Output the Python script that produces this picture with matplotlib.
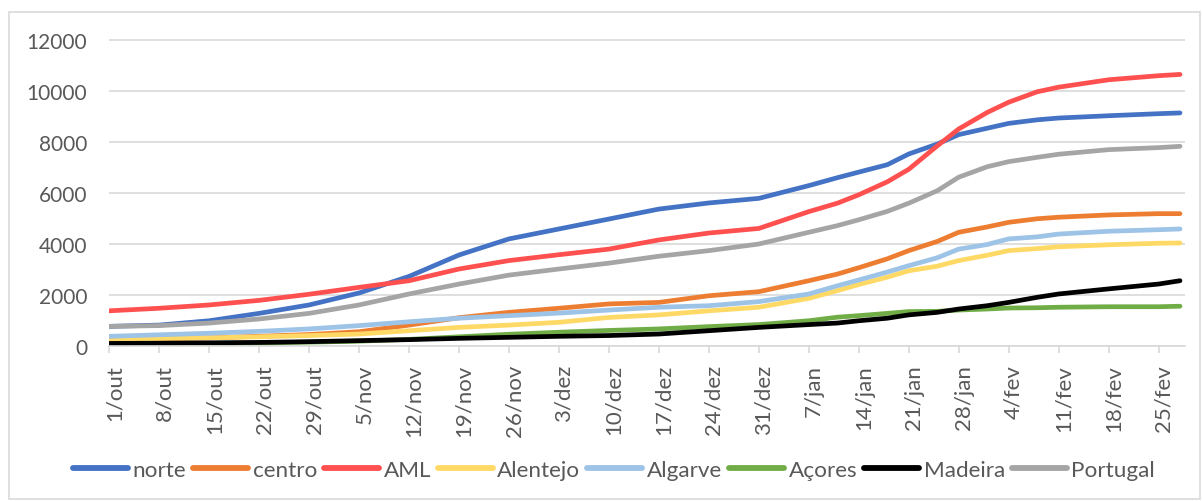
import numpy as np
import pandas as pd
import matplotlib
matplotlib.use("Agg")
import matplotlib.pyplot as plt
from matplotlib.transforms import ScaledTranslation
from matplotlib.patches import Rectangle

plt.rcParams['font.family'] = ['Lato', 'DejaVu Sans']

# sample dates (weekly, twice a week in jan/fev, + last day)
dates = pd.to_datetime([
    "2020-10-01", "2020-10-08", "2020-10-15", "2020-10-22", "2020-10-29",
    "2020-11-05", "2020-11-12", "2020-11-19", "2020-11-26", "2020-12-03",
    "2020-12-10", "2020-12-17", "2020-12-24", "2020-12-31", "2021-01-07",
    "2021-01-11", "2021-01-14", "2021-01-18", "2021-01-21", "2021-01-25",
    "2021-01-28", "2021-02-01", "2021-02-04", "2021-02-08", "2021-02-11",
    "2021-02-18", "2021-02-25", "2021-02-28"])

norte = [770, 820, 990, 1280, 1610, 2080, 2730, 3570, 4200, 4590, 4980, 5370,
         5610, 5790, 6290, 6600, 6820, 7110, 7530, 7920, 8290, 8540, 8730,
         8870, 8940, 9030, 9110, 9140]
centro = [250, 280, 320, 380, 450, 560, 820, 1110, 1320, 1480, 1650, 1710,
          1970, 2130, 2560, 2820, 3070, 3420, 3740, 4100, 4460, 4670, 4850,
          4990, 5050, 5140, 5190, 5190]
aml = [1380, 1480, 1610, 1790, 2030, 2300, 2560, 3020, 3350, 3580, 3800, 4160,
       4430, 4610, 5270, 5600, 5930, 6440, 6930, 7850, 8510, 9160, 9560,
       9970, 10150, 10440, 10600, 10650]
alentejo = [260, 290, 320, 360, 410, 470, 600, 730, 820, 930, 1120, 1220,
            1380, 1520, 1870, 2170, 2410, 2700, 2950, 3130, 3350, 3560, 3740,
            3820, 3890, 3970, 4030, 4040]
algarve = [380, 440, 500, 575, 670, 800, 950, 1090, 1190, 1290, 1410, 1520,
           1580, 1740, 2040, 2360, 2590, 2900, 3150, 3460, 3800, 3980, 4200,
           4280, 4390, 4500, 4560, 4590]
acores = [80, 90, 100, 120, 150, 190, 260, 360, 460, 540, 610, 670,
          760, 840, 990, 1130, 1190, 1280, 1350, 1360, 1410, 1450, 1490,
          1500, 1520, 1540, 1540, 1560]
madeira = [100, 110, 125, 140, 170, 210, 250, 300, 340, 380, 410, 470,
           600, 730, 840, 900, 990, 1090, 1220, 1320, 1450, 1580, 1710,
           1910, 2040, 2240, 2430, 2560]
portugal = [770, 800, 900, 1060, 1280, 1610, 2040, 2430, 2780, 3020, 3250, 3520,
            3740, 4000, 4460, 4720, 4950, 5280, 5600, 6090, 6620, 7030, 7230,
            7400, 7520, 7700, 7780, 7830]

series = [("norte", norte, "#4472C4"), ("centro", centro, "#ED7D31"),
          ("AML", aml, "#FF5050"), ("Alentejo", alentejo, "#FFD966"),
          ("Algarve", algarve, "#9DC3E6"), ("Açores", acores, "#70AD47"),
          ("Madeira", madeira, "#000000"), ("Portugal", portugal, "#A5A5A5")]

meses = {1: "jan", 2: "fev", 3: "mar", 10: "out", 11: "nov", 12: "dez"}
txt = "#595959"
grid_c = "#D9D9D9"

W, H = 1203, 502
fig = plt.figure(figsize=(W / 100, H / 100), dpi=100)
fig.patches.append(Rectangle((8.5 / W, 1 - 500 / H), (1200 - 8.5) / W, (500 - 12.5) / H,
                             transform=fig.transFigure, fill=False,
                             edgecolor=grid_c, linewidth=1.2))

y0 = 347
ppu = 0.02550
ytop = 12100
ax = fig.add_axes([109.3 / W, 1 - y0 / H, (1185 - 109.3) / W, ytop * ppu / H])

for name, vals, col in series:
    ax.plot(dates, vals, color=col, lw=3.4, label=name, solid_capstyle='round',
            solid_joinstyle='round')

start = pd.Timestamp("2020-10-01")
ax.set_xlim(start, start + pd.Timedelta(days=150.7))
ax.set_ylim(0, ytop)
ax.set_yticks(np.arange(0, 12001, 2000))
ax.grid(axis='y', color=grid_c, lw=1.2)
ax.set_axisbelow(True)
for s in ['top', 'right', 'left']:
    ax.spines[s].set_visible(False)
ax.spines['bottom'].set_color(grid_c)
ax.spines['bottom'].set_linewidth(1.2)

ticks = pd.date_range("2020-10-01", "2021-02-25", freq="7D")
ax.set_xticks(ticks)
ax.set_xticklabels([f"{d.day}/{meses[d.month]}" for d in ticks], rotation=90)
ax.tick_params(axis='x', length=5, width=1.2, color=grid_c, labelcolor=txt,
               labelsize=16, pad=8)
ax.tick_params(axis='y', length=0, labelcolor=txt, labelsize=15, pad=16)
off = ScaledTranslation(5 / 100, 0, fig.dpi_scale_trans)
for lab in ax.get_xticklabels():
    lab.set_transform(lab.get_transform() + off)

leg = fig.legend(loc='center', bbox_to_anchor=(614 / W, 1 - 471 / H), ncol=8,
                 frameon=False, fontsize=16.2, handlelength=2.45, handletextpad=0.2,
                 columnspacing=0.3, labelcolor=txt)
for h in leg.get_lines():
    h.set_linewidth(4.2)
    h.set_solid_capstyle('round')

fig.savefig("out.png", dpi=100)
